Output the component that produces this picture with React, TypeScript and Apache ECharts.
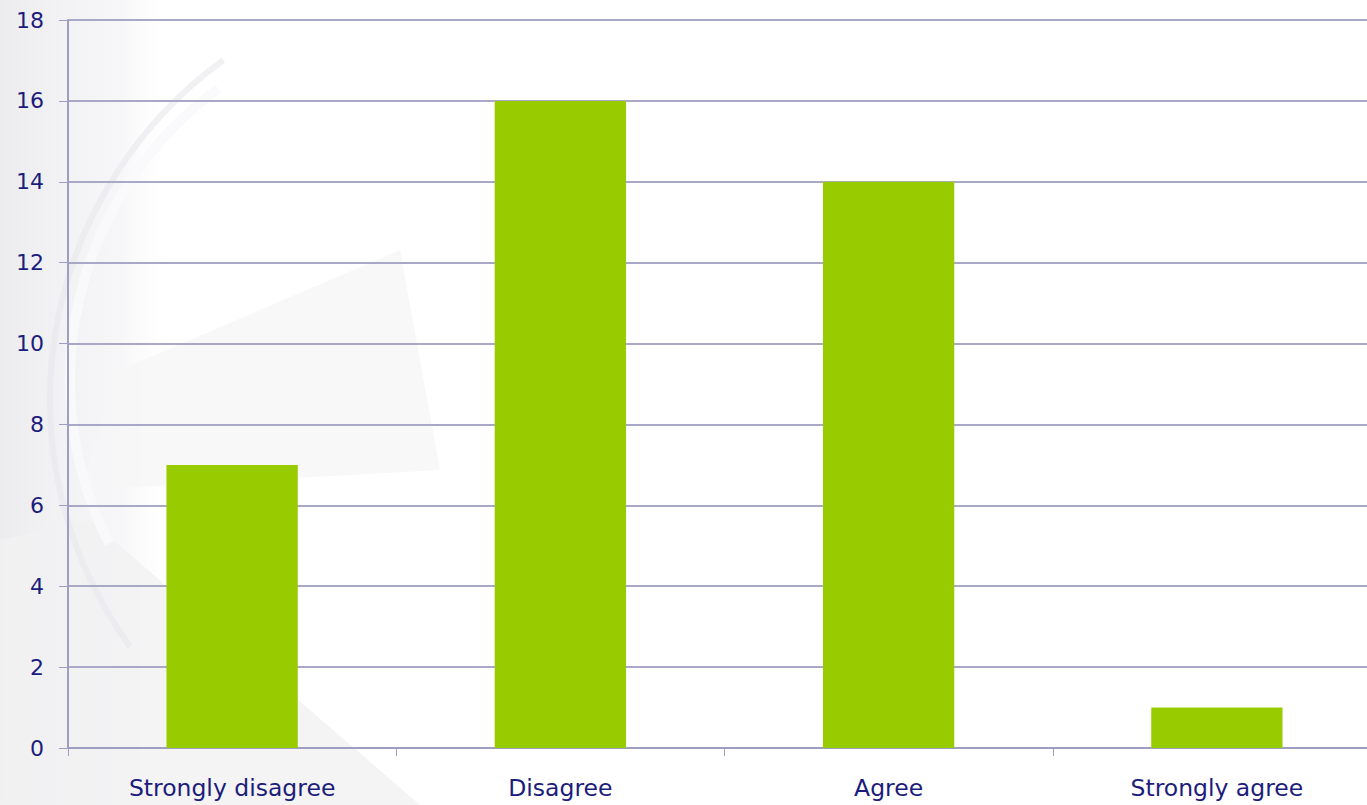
import React, { useEffect, useRef } from "react";
import * as echarts from "echarts";

const categories = ["Strongly disagree", "Disagree", "Agree", "Strongly agree"];
const values = [7, 16, 14, 1];
const yMin = 0;
const yMax = 18;
const yInterval = 2;

export default function App() {
  const ref = useRef<HTMLDivElement>(null);
  useEffect(() => {
    if (!ref.current) return;
    const chart = echarts.init(ref.current, undefined, { renderer: "svg" });
    chart.setOption({
      animation: false,
      backgroundColor: "#ffffff",
      graphic: [
        {
          type: "group",
          silent: true,
          z: -10,
          children: [
            { type: "rect", shape: { x: 0, y: 0, width: 175, height: 805 }, style: { fill: new echarts.graphic.LinearGradient(0, 0, 1, 0, [ { offset: 0, color: "rgba(236,236,238,1)" }, { offset: 0.7, color: "rgba(245,245,247,0.8)" }, { offset: 1, color: "rgba(255,255,255,0)" } ]) } },
            { type: "polygon", shape: { points: [[120, 370], [400, 250], [440, 470], [80, 490]] }, style: { fill: "rgba(246,246,248,0.8)" } },
            { type: "polygon", shape: { points: [[0, 540], [90, 520], [420, 805], [0, 805]] }, style: { fill: "rgba(241,241,243,0.8)" } },
            { type: "arc", shape: { cx: 430, cy: 380, r: 360, startAngle: Math.PI * 0.85, endAngle: Math.PI * 1.3 }, style: { stroke: "rgba(250,250,252,0.9)", lineWidth: 10, fill: "none" } },
            { type: "arc", shape: { cx: 470, cy: 400, r: 420, startAngle: Math.PI * 0.8, endAngle: Math.PI * 1.3 }, style: { stroke: "rgba(232,232,236,0.6)", lineWidth: 6, fill: "none" } },
          ],
        },
      ],
      grid: { left: 68, right: 0, top: 20, bottom: 57, containLabel: false },
      xAxis: {
        type: "category",
        data: categories,
        axisLine: { show: true, lineStyle: { color: "#9e9dc2", width: 2 } },
        axisTick: { show: true, alignWithLabel: false, length: 8, lineStyle: { color: "#9e9dc2" } },
        axisLabel: { color: "#1c1c7c", fontSize: 23.5, fontFamily: "DejaVu Sans, sans-serif", margin: 28 },
        splitLine: { show: false },
      },
      yAxis: {
        type: "value",
        min: yMin,
        max: yMax,
        interval: yInterval,
        axisLine: { show: true, lineStyle: { color: "#9e9dc2", width: 2 } },
        axisTick: { show: true, length: 9, lineStyle: { color: "#9e9dc2" } },
        axisLabel: { color: "#1c1c7c", fontSize: 22, fontFamily: "DejaVu Sans, sans-serif", margin: 24 },
        splitLine: { show: true, lineStyle: { color: "#a9a8c8", width: 2 } },
      },
      series: [
        {
          type: "bar",
          data: values,
          barWidth: "40%",
          itemStyle: { color: "#99cc00" },
        },
      ],
    });
    return () => chart.dispose();
  }, []);
  return (
    <div style={{ position: "absolute", left: 0, top: 0, width: 1367, height: 805, overflow: "hidden" }}>
      <div ref={ref} style={{ width: 1381, height: 805 }} />
    </div>
  );
}
